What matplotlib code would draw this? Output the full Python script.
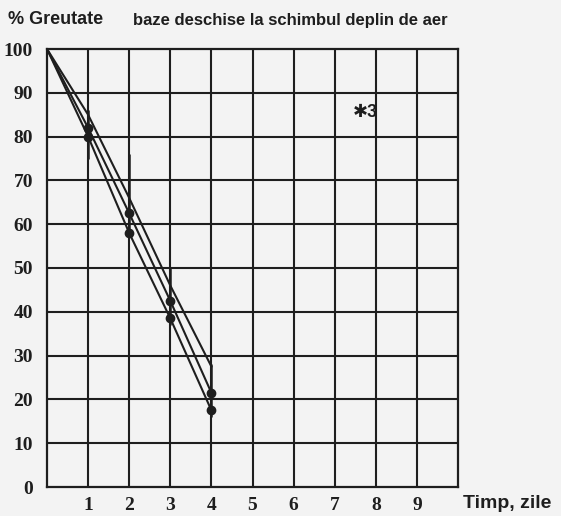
import matplotlib
matplotlib.use("Agg")
import matplotlib.pyplot as plt

# ---- data ----
days = [0, 1, 2, 3, 4]
series_low = [100, 80, 58, 38.5, 17.5]
series_mid = [100, 82, 62.5, 42.5, 21.5]
series_high = [100, 85, 66, 46, 27.5]
bar_days = [1, 2, 3, 4]
bar_low = [75, 57, 37, 16]
bar_high = [86, 76, 50, 28]
x_ticks = [1, 2, 3, 4, 5, 6, 7, 8, 9]
y_ticks = [0, 10, 20, 30, 40, 50, 60, 70, 80, 90, 100]
title_left = "% Greutate"
title_right = "baze deschise la schimbul deplin de aer"
x_label = "Timp, zile"
note = "\u27313"

bg = "#f3f3f3"
ink = "#1e1e1e"

fig = plt.figure(figsize=(5.61, 5.16), dpi=100, facecolor=bg)
ax = fig.add_axes([47 / 561, 1 - 487 / 516, 411 / 561, 438 / 516], facecolor=bg)

ax.set_xlim(0, 10)
ax.set_ylim(0, 100)

# grid
for gx in range(1, 10):
    ax.axvline(gx, color=ink, lw=1.5, zorder=1)
for gy in range(10, 100, 10):
    ax.axhline(gy, color=ink, lw=1.5, zorder=1)
for sp in ax.spines.values():
    sp.set_color(ink)
    sp.set_linewidth(1.6)

# data lines
for s in (series_low, series_mid, series_high):
    ax.plot(days, s, color=ink, lw=1.5, zorder=3)
ax.vlines(bar_days, bar_low, bar_high, color=ink, lw=1.8, zorder=3)
ax.plot(days[1:], series_low[1:], "o", color=ink, ms=6, zorder=4)
ax.plot(days[1:], series_mid[1:], "o", color=ink, ms=6, zorder=4)

ax.set_xticks(x_ticks)
ax.set_yticks(y_ticks)
ax.tick_params(length=0)
ax.tick_params(axis="y", pad=10)
ax.tick_params(axis="x", pad=7)
for lab in ax.get_xticklabels() + ax.get_yticklabels():
    lab.set_fontfamily("Liberation Serif")
    lab.set_fontweight("bold")
    lab.set_fontsize(14)
    lab.set_color(ink)

ax.text(7.45, 85.5, note, fontsize=13, fontweight="bold", color=ink,
        family=["Liberation Sans", "DejaVu Sans"], va="center", ha="left")

fig.text(8 / 561, 1 - 20 / 516, title_left, fontsize=13, fontweight="bold",
         family="Liberation Sans", color=ink, va="center", ha="left")
fig.text(133 / 561, 1 - 20 / 516, title_right, fontsize=12, fontweight="bold",
         family="Liberation Sans", color=ink, va="center", ha="left")
fig.text(463 / 561, 1 - 503 / 516, x_label, fontsize=14, fontweight="bold",
         family="Liberation Sans", color=ink, va="center", ha="left")

fig.savefig("out.png", dpi=100, facecolor=bg)
